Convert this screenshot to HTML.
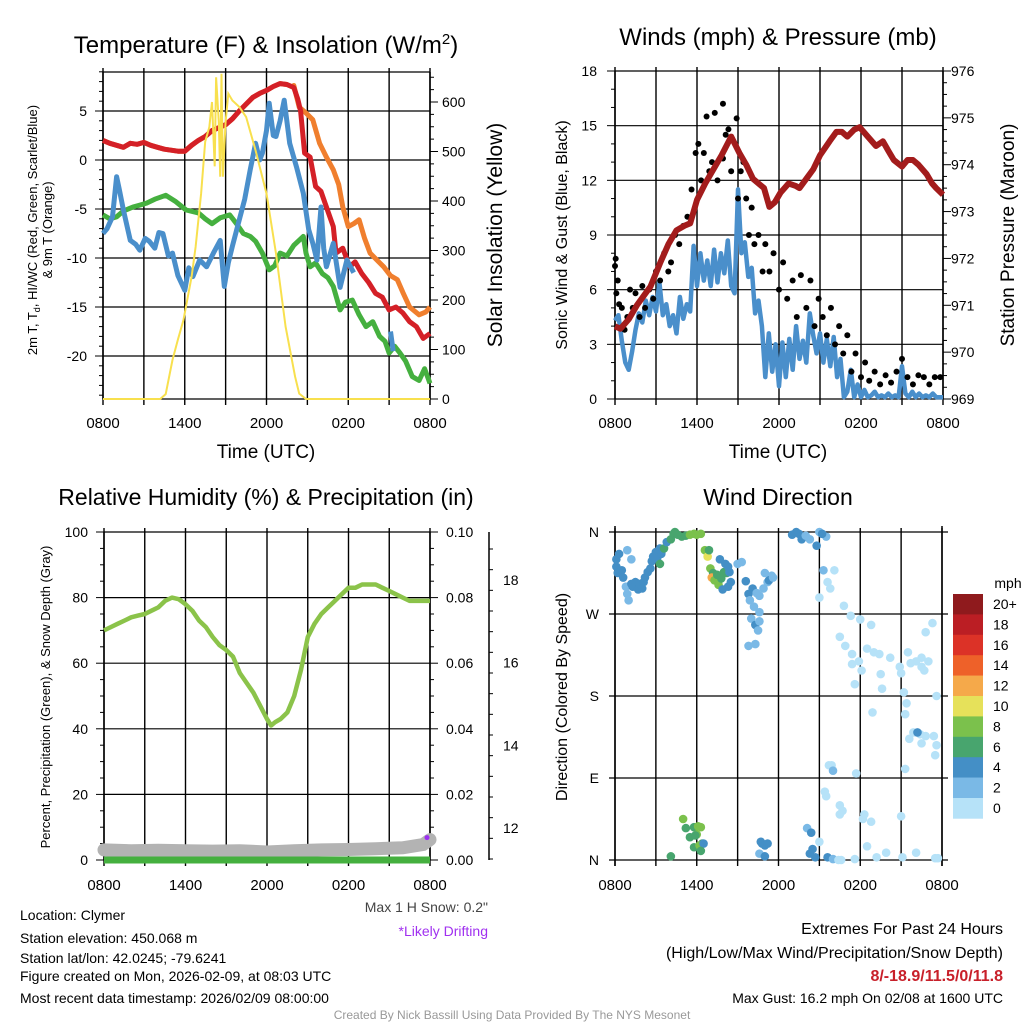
<!DOCTYPE html>
<html><head><meta charset="utf-8"><style>
body{margin:0;background:#fff;}
svg{display:block;font-family:"Liberation Sans",Arial,sans-serif;}
</style></head><body>
<svg id="c" width="1024" height="1024" viewBox="0 0 1024 1024" xmlns="http://www.w3.org/2000/svg"></svg>
<script>
// ---------- DATA ----------
const timeTickLabels=["0800","1400","2000","0200","0800"];
// Temperature panel (hours since 0800, value F)
const redT=[[0,2],[0.5,1.7],[1,1.5],[1.5,1.3],[2,1.7],[2.5,1.6],[3,1.8],[3.5,1.5],[4,1.3],[4.5,1.1],[5,1],[5.5,0.9],[6,0.9],[6.5,1.5],[7,2],[7.5,2.4],[8,3],[8.5,3.3],[9,3.6],[9.5,4.2],[10,5],[10.5,5.7],[11,6.4],[11.5,6.8],[12,7.1],[12.5,7.5],[13,7.8],[13.5,7.7],[14,7.4],[14.3,6.2],[14.5,5],[14.8,0.7],[15.2,0.3],[15.6,-2.7],[16,-3.2],[16.4,-4.8],[16.9,-6.8],[17.1,-9.5],[17.6,-9],[18.1,-10.9],[18.5,-10.4],[19,-11.6],[19.5,-12.5],[20,-13.6],[20.5,-14],[21,-15.3],[21.5,-15],[22,-15.6],[22.5,-16.5],[23,-17],[23.5,-18.2],[24,-17.7]];
const orangeT=[[14,7.6],[14.4,5.4],[14.9,4.8],[15.4,4.1],[15.9,1.7],[16.4,0.3],[16.9,-1],[17.3,-2.5],[17.6,-4.8],[18,-6.8],[18.4,-6.5],[18.8,-6.1],[19.2,-8],[19.6,-9.5],[20.1,-10.2],[20.6,-10.9],[21.1,-11.8],[21.6,-12.2],[22,-13.5],[22.5,-15],[23.2,-15.8],[23.7,-15.5],[24,-15]];
const greenTd=[[0,-5.6],[0.5,-6],[1,-5.8],[1.5,-5.2],[2.2,-4.8],[2.7,-4.6],[3.2,-4.4],[3.8,-4],[4.6,-3.6],[5.3,-4.2],[6.1,-5.1],[7,-5.4],[7.5,-6],[8,-6.5],[8.6,-5.9],[9.3,-5.6],[9.8,-6.5],[10.3,-7.5],[10.8,-7.8],[11.2,-8.3],[11.7,-9.5],[12.2,-11.2],[12.6,-10.8],[13,-9.5],[13.5,-9.8],[14,-8.7],[14.7,-7.8],[14.9,-9.5],[15.2,-10.9],[15.6,-10.5],[16.1,-11.6],[16.5,-12],[16.9,-12.9],[17.4,-15.3],[17.8,-14.5],[18.3,-14.3],[18.8,-15.8],[19.3,-17],[19.8,-16.5],[20.3,-18],[20.7,-18.5],[21,-19.7],[21.4,-19],[21.8,-19.7],[22.2,-20.5],[22.7,-22.1],[23.2,-22.5],[23.6,-21.3],[24,-22.8]];
const blueWC=[[0,-7.5],[0.3,-7],[0.7,-5.8],[1,-1.7],[1.2,-3],[1.5,-5.1],[2,-8.2],[2.4,-8.6],[2.7,-9.2],[3.1,-8],[3.4,-8.3],[3.8,-9],[4.1,-7.4],[4.4,-7.5],[4.8,-9.8],[5.1,-9.5],[5.5,-11.8],[6,-13.3],[6.3,-11],[6.6,-11.9],[7.1,-10.2],[7.6,-10.9],[8.1,-9.5],[8.6,-8.2],[8.9,-12.9],[9.2,-10.5],[9.5,-8.8],[10,-6.1],[10.4,-4],[10.8,-1],[11.2,1.7],[11.5,0],[11.7,0.7],[12,3],[12.2,5.8],[12.5,2.5],[12.7,2.4],[13,4],[13.3,6.1],[13.7,1.7],[14.2,-0.7],[14.7,-3.4],[15.1,-7.1],[15.4,-8.5],[15.7,-10.2],[16,-4.8],[16.2,-9],[16.4,-10.9],[16.9,-8.5],[17.4,-13],[17.9,-10.2],[18.4,-11.5]];
const blueWC2=[[21.1,-17.5],[21.3,-19.5]];
const solar=[[0,0],[4.2,0],[4.6,10],[5.1,79],[5.5,120],[5.9,159],[6.5,247],[6.8,307],[7.2,415],[7.5,520],[7.8,549],[8,600],[8.2,470],[8.3,650],[8.5,560],[8.6,449],[8.7,657],[8.8,449],[9,560],[9.2,617],[9.5,603],[10,590],[10.5,570],[11.2,502],[12,415],[12.7,294],[13.4,146],[14.1,45],[14.4,11],[14.9,0],[24,0]];
// Wind panel
const sonicWind=[[0,4.3],[0.25,4.6],[0.5,3.2],[0.75,2.0],[1,1.6],[1.25,2.6],[1.5,3.8],[1.75,4.7],[2,4.2],[2.25,5.4],[2.5,4.6],[2.75,5.6],[3,4.8],[3.25,6.4],[3.5,4.6],[3.75,5.2],[4,4.0],[4.25,4.6],[4.5,3.6],[4.75,5.6],[5,4.4],[5.25,5.2],[5.5,4.8],[5.75,8.4],[6,6.2],[6.25,8.0],[6.5,6.5],[6.75,7.6],[7,6.2],[7.25,8.2],[7.5,6.4],[7.75,8.0],[8,6.9],[8.25,8.7],[8.5,6.2],[8.75,5.8],[9,11.5],[9.25,8.0],[9.5,8.6],[9.75,6.7],[10,7.2],[10.25,4.7],[10.5,5.4],[10.75,4.0],[11,1.2],[11.25,3.6],[11.5,1.5],[11.75,3.0],[12,0.7],[12.25,3.1],[12.5,1.2],[12.75,3.3],[13,1.6],[13.25,4.0],[13.5,2.2],[13.75,3.2],[14,2.0],[14.25,4.7],[14.5,3.5],[14.75,2.5],[15,3.6],[15.25,2.0],[15.5,3.3],[15.75,1.8],[16,3.4],[16.25,1.2],[16.5,2.2],[16.75,0.1],[17,0.4],[17.25,1.6],[17.5,0.1],[17.75,0.8],[18,0.1],[18.25,0.5],[18.5,0.1],[18.75,0.2],[19,0.4],[19.25,0.1],[19.5,0.2],[19.75,0.1],[20,0.3],[20.25,0.1],[20.5,0.2],[20.75,0.1],[21,1.8],[21.25,0.3],[21.5,0.1],[21.75,0.4],[22,0.1],[22.25,0.3],[22.5,0.1],[22.75,0.2],[23,0.1],[23.25,0.3],[23.5,0.1],[24,0.1]];
const gustDots=[[0,7.3],[0.05,7.7],[0.1,5.8],[0.2,6.5],[0.3,5.2],[0.5,5],[0.7,3.8],[0.9,4.5],[1.1,6],[1.3,5],[1.5,5.8],[1.8,4.5],[2,6.2],[2.2,5],[2.5,6],[2.8,5.5],[3,7],[3.3,6.5],[3.6,8],[3.9,7],[4.1,7.5],[4.4,9],[4.7,8.5],[5,9.5],[5.3,10],[5.6,11.5],[5.9,13.5],[6.1,14],[6.3,12],[6.5,13.5],[6.7,15.5],[6.9,12.5],[7.1,13],[7.3,15.7],[7.5,12],[7.9,16.2],[7.9,13.2],[8.1,14.5],[8.3,14.8],[8.5,12.5],[8.9,15.4],[9,11],[9.2,12.5],[9.4,13],[9.6,11],[9.8,9],[10,10.5],[10.2,8.5],[10.5,9],[10.8,7],[11,8.5],[11.3,7],[11.6,8],[12,6],[12.3,7.5],[12.6,5.5],[13,6.5],[13.3,4.5],[13.6,6.8],[14,5],[14.3,6.5],[14.6,4],[14.9,5.5],[15.2,4.5],[15.5,3.5],[15.8,5],[16.1,3],[16.4,4],[16.7,2.5],[17,3.5],[17.3,1.5],[17.6,2.5],[18,1.2],[18.3,2],[18.6,1],[19,1.5],[19.4,0.8],[19.8,1.3],[20.2,0.9],[20.6,1.5],[21,2.2],[21.4,1.2],[21.8,0.8],[22.2,1.3],[22.6,1.2],[23,0.8],[23.4,1.2],[23.8,1.2]];
const pressure=[[0,970.55],[0.4,970.5],[1,970.7],[1.6,971],[2.1,971.2],[2.6,971.4],[3.3,971.9],[3.9,972.3],[4.5,972.6],[5.1,972.7],[5.5,972.75],[6,973.25],[6.6,973.6],[7.2,973.9],[7.8,974.2],[8.5,974.6],[9.1,974.25],[9.6,974],[10.1,973.7],[10.9,973.5],[11.3,973.1],[11.7,973.2],[12.1,973.4],[12.7,973.6],[13.2,973.55],[13.5,973.5],[14,973.7],[14.5,973.9],[15,974.2],[15.7,974.5],[16.2,974.7],[16.6,974.7],[17,974.6],[17.5,974.75],[17.9,974.8],[18.5,974.6],[19.1,974.4],[19.6,974.5],[20,974.3],[20.4,974.1],[21,973.96],[21.4,974.1],[21.8,974.1],[22.2,974],[22.8,973.8],[23.2,973.6],[23.5,973.5],[24,973.36]];
// RH panel
const rhVals=[[0,70],[0.5,71],[1,72],[1.5,73],[2,74],[2.5,74.5],[3,75],[3.5,76],[4,77],[4.5,79],[5,80],[5.5,79.5],[6,78],[6.5,76],[7,73],[7.5,71],[8,68],[8.5,65.5],[9,64],[9.5,62],[10,57],[10.5,54],[11,51],[11.5,47],[12,43],[12.3,41],[12.6,42],[13,43],[13.5,45],[14,50],[14.5,58],[15,68],[15.5,72],[16,75],[16.5,77],[17,79],[17.5,81],[18,83],[18.5,83],[19,84],[19.5,84],[20,84],[20.5,83],[21,82],[21.5,81],[22,80],[22.5,79],[23,79],[23.5,79],[24,79]];
const precipVals=[[0,0],[24,0]];
const snowDepth=[[0,11.47],[2,11.45],[4,11.46],[6,11.45],[8,11.44],[10,11.45],[12,11.42],[14,11.45],[16,11.47],[18,11.48],[20,11.5],[22,11.52],[23.5,11.6],[24,11.72]];
// Wind direction [hour, degrees, speed]
const dirPts=[[0.1,330,4],[0.1,322,4],[0.3,336,4],[0.2,315,4],[0.5,318,4],[0.6,310,4],[0.8,300,3],[0.9,292,3],[1.0,285,3],[1.2,303,4],[1.3,300,4],[1.5,305,4],[1.6,300,4],[1.7,297,4],[1.8,303,4],[2.0,298,4],[2.1,305,4],[2.2,310,4],[2.4,316,4],[2.6,320,4],[1.2,330,3],[0.9,340,3],[2.7,328,5],[2.8,333,4],[3.0,338,4],[3.1,331,4],[3.3,342,4],[3.4,336,4],[3.6,342,6],[3.8,349,5],[3.3,325,6],[4.1,352,6],[4.3,358,6],[4.6,357,6],[4.9,355,6],[5.2,356,6],[5.5,357,8],[5.8,358,8],[6.0,357,8],[6.3,358,8],[4.4,360,7],[6.6,340,8],[6.8,333,10],[6.9,340,6],[7.0,320,8],[7.2,315,6],[7.1,310,12],[7.3,307,8],[7.5,313,6],[7.6,302,8],[7.8,309,6],[8.0,316,6],[8.2,315,6],[8.4,316,5],[7.7,330,4],[8.1,325,4],[8.3,322,4],[8.5,305,4],[7.9,297,4],[8.3,300,4],[9.0,325,3],[9.3,327,3],[9.6,306,4],[9.8,292,4],[10.1,298,4],[10.4,293,3],[10.6,290,3],[10.9,298,3],[11.2,305,3],[11.5,312,3],[11.3,307,4],[11.6,310,3],[9.9,285,2],[10.2,278,2],[10.0,265,3],[10.3,258,4],[10.5,252,2],[10.6,262,2],[9.8,235,2],[10.3,237,2],[11.0,315,2],[10.6,272,3],[13.0,357,4],[13.3,360,4],[13.5,358,4],[13.7,352,4],[14.0,356,3],[14.3,352,3],[14.8,345,4],[15.0,360,3],[15.5,355,3],[15.2,358,4],[15.3,318,2],[16.1,318,1],[15.0,288,1],[15.8,298,1],[15.6,305,1],[16.8,279,1],[17.3,268,1],[18.0,264,1],[18.8,258,1],[16.5,245,1],[16.9,235,1],[17.4,215,1],[17.4,226,1],[17.9,218,1],[19.4,226,1],[20.2,222,1],[18.5,232,1],[19.0,228,1],[20.9,212,1],[21.7,216,1],[21.5,228,1],[22.5,222,1],[23.0,218,1],[22.1,218,1],[22.5,212,1],[21.0,205,1],[19.5,204,1],[19.6,188,1],[18.1,208,1],[17.6,193,1],[22.7,208,1],[23.3,260,1],[22.8,250,1],[21.2,184,1],[21.4,172,1],[21.3,160,1],[21.6,133,1],[21.9,140,1],[22.4,138,1],[22.8,136,1],[23.4,136,1],[23.6,180,1],[23.6,126,1],[23.5,115,1],[18.9,162,1],[15.7,104,1],[15.9,104,1],[16.0,98,2],[17.7,95,1],[15.4,75,1],[15.5,70,1],[16.5,60,1],[16.7,54,1],[16.5,50,1],[18.2,45,1],[18.3,50,1],[18.8,42,1],[21.0,48,1],[22.2,140,4],[21.3,100,1],[22.5,128,1],[5.0,45,8],[5.2,35,6],[5.5,25,6],[5.8,36,6],[6.1,37,8],[6.0,28,8],[6.3,36,8],[5.9,27,6],[6.4,18,6],[5.8,14,6],[6.2,16,8],[6.5,18,4],[4.1,4,6],[6.3,10,6],[10.8,18,4],[10.7,20,4],[11.0,16,4],[11.2,18,4],[10.6,7,3],[11.0,4,4],[14.1,35,3],[14.4,30,4],[14.5,12,4],[14.3,7,4],[14.7,3,4],[15.0,20,1],[15.6,3,4],[16.0,1,2],[16.4,0,1],[16.6,0,1],[17.6,1,1],[18.5,15,1],[19.2,3,1],[19.9,8,1],[21.1,3,1],[22.1,8,1],[23.5,2,1],[23.7,2,1]];
const cbarLabels=["20+","18","16","14","12","10","8","6","4","2","0"];
const cbarColors=["#8f1a1d","#bb1e24","#dc3227","#ee6129","#f5a94a","#e6e15a","#7bc14c","#48a56e","#448fc6","#7ab9e6","#b6e2f8"];

// ---------- HELPERS ----------
const NS="http://www.w3.org/2000/svg";
const svg=document.getElementById('c');
function el(tag,attrs,parent){const e=document.createElementNS(NS,tag);for(const k in attrs)e.setAttribute(k,attrs[k]);(parent||svg).appendChild(e);return e;}
function txt(x,y,s,size,anchor,extra){const t=el('text',Object.assign({x:x,y:y,'font-size':size,'text-anchor':anchor||'middle',fill:'#000'},extra||{}));t.textContent=s;return t;}
function lin(d0,d1,r0,r1){return v=>r0+(v-d0)/(d1-d0)*(r1-r0);}
function pathOf(arr,xf,yf){return arr.map((p,i)=>(i?'L':'M')+xf(p[0]).toFixed(1)+','+yf(p[1]).toFixed(1)).join('');}
function panelFrame(x0,x1,y0,y1,name){
  const g=el('g',{});
  
  
  for(let h=0;h<=24;h+=3){const x=lin(0,24,x0,x1)(h);el('line',{x1:x,x2:x,y1:y0-4,y2:y1+6,stroke:'#000','stroke-width':1.4},g);}
  return g;
}
function timeAxis(x0,x1,y){
  const xf=lin(0,24,x0,x1);
  timeTickLabels.forEach((s,i)=>{const t=txt(xf(i*6),y,s,15);
    
    });
}
function hgrid(x0,x1,ys){ys.forEach(y=>el('line',{x1:x0,x2:x1,y1:y,y2:y,stroke:'#000','stroke-width':1.2}));}

// ---------- PANEL 1: Temperature ----------
(function(){
 const x0=103,x1=430,y0=72,y1=399;
 const xf=lin(0,24,x0,x1), yf=lin(0,5,160,111), ys=lin(0,600,399,102);
 panelFrame(x0,x1,y0,y1,'temperature');
 const ticks=[5,0,-5,-10,-15,-20];
 hgrid(x0,x1,ticks.map(yf).concat([y0,y1]));
 ticks.forEach(v=>{const t=txt(x0-16,yf(v)+5,String(v),14,'end');});
 for(let v=-24;v<=9;v++){el('line',{x1:x0-(v%5==0?8:4),x2:x0,y1:yf(v),y2:yf(v),stroke:'#000','stroke-width':1});}
 [0,100,200,300,400,500,600].forEach(v=>{const t=txt(x1+12,ys(v)+5,String(v),14,'start');});
 for(let v=0;v<=660;v+=25){el('line',{x1:x1,x2:x1+(v%100==0?8:4),y1:ys(v),y2:ys(v),stroke:'#000','stroke-width':1});}
 el('line',{x1:x0,x2:x0,y1:y0,y2:y1,stroke:'#000','stroke-width':1.5});
 el('line',{x1:x1,x2:x1,y1:y0,y2:y1,stroke:'#000','stroke-width':1.5});
 const sw=5;
 let p=el('path',{d:pathOf(redT.filter(d=>d[0]<=14).concat(orangeT),xf,yf),fill:'none',stroke:'#f07f2e','stroke-width':sw,'stroke-linejoin':'round'});
 
 p=el('path',{d:pathOf(redT,xf,yf),fill:'none',stroke:'#d42027','stroke-width':sw,'stroke-linejoin':'round'});
 
 p=el('path',{d:pathOf(greenTd,xf,yf),fill:'none',stroke:'#45b03f','stroke-width':sw,'stroke-linejoin':'round'});
 
 p=el('path',{d:pathOf(blueWC,xf,yf)+pathOf(blueWC2,xf,yf),fill:'none',stroke:'#4a8fcb','stroke-width':sw,'stroke-linejoin':'round'});
 
 p=el('path',{d:pathOf(solar,xf,ys),fill:'none',stroke:'#f8e04e','stroke-width':2});
 
 timeAxis(x0,x1,428);
 let t=txt(266,53,'Temperature (F) & Insolation (W/m',24);
 const sup=el('tspan',{dy:-9,'font-size':15});sup.textContent='2';t.appendChild(sup);
 const cl=el('tspan',{dy:9});cl.textContent=')';t.appendChild(cl);
 t=txt(266,458,'Time (UTC)',19);
 t=txt(0,0,'2m T, T',13,'middle',{transform:'translate(37,230) rotate(-90)'});
 const sub=el('tspan',{'font-size':9,dy:3});sub.textContent='d';t.appendChild(sub);
 const r=el('tspan',{dy:-3});r.textContent=', HI/WC (Red, Green, Scarlet/Blue)';t.appendChild(r);
 
 t=txt(0,0,'& 9m T (Orange)',13,'middle',{transform:'translate(52,230) rotate(-90)'});
 
 t=txt(0,0,'Solar Insolation (Yellow)',21,'middle',{transform:'translate(502,235) rotate(-90)'});
 
})();

// ---------- PANEL 2: Winds ----------
(function(){
 const x0=615,x1=943,y0=71,y1=399;
 const xf=lin(0,24,x0,x1), yf=lin(0,18,y1,y0), pf=lin(969,976,y1,y0);
 panelFrame(x0,x1,y0,y1,'winds');
 const ticks=[0,3,6,9,12,15,18];
 hgrid(x0,x1,ticks.map(yf));
 ticks.forEach(v=>{const t=txt(x0-18,yf(v)+5,String(v),14,'end');});
 for(let v=0;v<=18;v++){el('line',{x1:x0-(v%3==0?8:4),x2:x0,y1:yf(v),y2:yf(v),stroke:'#000','stroke-width':1});}
 for(let v=969;v<=976;v++){const t=txt(x1+8,pf(v)+5,String(v),14,'start');}
 for(let v=969;v<=976;v+=0.25){el('line',{x1:x1,x2:x1+(Math.abs(v-Math.round(v))<0.01?8:4),y1:pf(v),y2:pf(v),stroke:'#000','stroke-width':1});}
 el('line',{x1:x0,x2:x0,y1:y0,y2:y1,stroke:'#000','stroke-width':1.5});
 el('line',{x1:x1,x2:x1,y1:y0,y2:y1,stroke:'#000','stroke-width':1.5});
 let p=el('path',{d:pathOf(sonicWind,xf,yf),fill:'none',stroke:'#4a8fcb','stroke-width':4.5,'stroke-linejoin':'round'});
 
 gustDots.forEach(d=>{const c=el('circle',{cx:xf(d[0]),cy:yf(d[1]),r:3,fill:'#000'});
   });
 p=el('path',{d:pathOf(pressure,xf,pf),fill:'none',stroke:'#a31c1c','stroke-width':6,'stroke-linejoin':'round'});
 
 timeAxis(x0,x1,428);
 let t=txt(778,45,'Winds (mph) & Pressure (mb)',24);
 t=txt(778,458,'Time (UTC)',19);
 t=txt(0,0,'Sonic Wind & Gust (Blue, Black)',16,'middle',{transform:'translate(567,235) rotate(-90)'});
 
 t=txt(0,0,'Station Pressure (Maroon)',19,'middle',{transform:'translate(1014,235) rotate(-90)'});
 
})();

// ---------- PANEL 3: RH ----------
(function(){
 const x0=104,x1=430,y0=532,y1=860;
 const xf=lin(0,24,x0,x1), yf=lin(0,100,y1,y0), sf=lin(12,18,828,580);
 panelFrame(x0,x1,y0,y1,'rh');
 const ticks=[0,20,40,60,80,100];
 hgrid(x0,x1,ticks.map(yf));
 ticks.forEach(v=>{const t=txt(x0-16,yf(v)+5,String(v),14,'end');});
 for(let v=0;v<=100;v+=5){el('line',{x1:x0-(v%20==0?8:4),x2:x0,y1:yf(v),y2:yf(v),stroke:'#000','stroke-width':1});}
 ['0.00','0.02','0.04','0.06','0.08','0.10'].forEach((s,i)=>{const t=txt(x1+16,yf(i*20)+5,s,14,'start');});
 for(let v=0;v<=100;v+=5){el('line',{x1:x1,x2:x1+(v%20==0?8:4),y1:yf(v),y2:yf(v),stroke:'#000','stroke-width':1});}
 el('line',{x1:x0,x2:x0,y1:y0,y2:y1,stroke:'#000','stroke-width':1.5});
 el('line',{x1:x1,x2:x1,y1:y0,y2:y1,stroke:'#000','stroke-width':1.5});
 el('line',{x1:489,x2:489,y1:y0,y2:y1,stroke:'#000','stroke-width':1.5});
 [12,14,16,18].forEach(v=>{const t=txt(503,sf(v)+5,String(v),14,'start');});
 for(let v=11.25;v<=19;v+=0.5){el('line',{x1:489,x2:489+(v%2==0?8:4),y1:sf(v),y2:sf(v),stroke:'#000','stroke-width':1});}
 let p=el('path',{d:pathOf(snowDepth,xf,sf),fill:'none',stroke:'#b3b3b3','stroke-width':13,'stroke-linecap':'round'});
 
 p=el('path',{d:pathOf(precipVals,xf,v=>yf(v*1000)),fill:'none',stroke:'#45b03f','stroke-width':7});
 
 const pd=el('circle',{cx:xf(24)-3,cy:sf(11.72)-2,r:2.5,fill:'#9b30f0'});
 
 p=el('path',{d:pathOf(rhVals,xf,yf),fill:'none',stroke:'#8bc34a','stroke-width':4.5,'stroke-linejoin':'round'});
 
 timeAxis(x0,x1,890);
 let t=txt(266,505,'Relative Humidity (%) & Precipitation (in)',23);
 t=txt(0,0,'Percent, Precipitation (Green), & Snow Depth (Gray)',13,'middle',{transform:'translate(50,697) rotate(-90)'});
 
 t=txt(488,912,'Max 1 H Snow: 0.2"',14,'end',{fill:'#444'});
 t=txt(488,936,'*Likely Drifting',14,'end',{fill:'#a030f0'});
})();

// ---------- PANEL 4: Wind direction ----------
(function(){
 const x0=615,x1=942,y0=532,y1=860;
 const xf=lin(0,24,x0,x1), yf=lin(0,360,y1,y0);
 panelFrame(x0,x1,y0,y1,'direction');
 const labs=['N','E','S','W','N'];
 hgrid(x0-6,x1+6,[0,90,180,270,360].map(yf));
 labs.forEach((s,i)=>{const t=txt(x0-16,yf(i*90)+5,s,14,'end');});
 el('line',{x1:x0,x2:x0,y1:y0-6,y2:y1+6,stroke:'#000','stroke-width':1.5});
 el('line',{x1:x1,x2:x1,y1:y0-6,y2:y1+6,stroke:'#000','stroke-width':1.5});
 dirPts.forEach(d=>{const bin=Math.min(10,Math.floor(d[2]/2));
   const c=el('circle',{cx:xf(d[0]),cy:yf(d[1]),r:4.3,fill:cbarColors[10-bin]});
   });
 timeAxis(x0,x1,890);
 let t=txt(778,505,'Wind Direction',23);
 t=txt(0,0,'Direction (Colored By Speed)',16,'middle',{transform:'translate(567,697) rotate(-90)'});
 
 const bh=20.4;
 cbarColors.forEach((c,i)=>{const r=el('rect',{x:953,y:594+i*bh,width:30,height:bh+0.3,fill:c});
   });
 cbarLabels.forEach((s,i)=>{const tt=txt(993,594+i*bh+15,s,14,'start');});
 t=txt(1008,588,'mph',14);
})();

// ---------- Footer ----------
[['Location: Clymer',920],['Station elevation: 450.068 m',943],['Station lat/lon: 42.0245; -79.6241',963],['Figure created on Mon, 2026-02-09, at 08:03 UTC',981],['Most recent data timestamp: 2026/02/09 08:00:00',1003]].forEach(a=>{
 const t=txt(20,a[1],a[0],14,'start');});
let ft=txt(1003,934,'Extremes For Past 24 Hours',16,'end');
ft=txt(1003,958,'(High/Low/Max Wind/Precipitation/Snow Depth)',16,'end');
ft=txt(1003,981,'8/-18.9/11.5/0/11.8',16,'end',{fill:'#c8202a','font-weight':'bold'});
ft=txt(1003,1003,'Max Gust: 16.2 mph On 02/08 at 1600 UTC',14,'end');
ft=txt(512,1019,'Created By Nick Bassill Using Data Provided By The NYS Mesonet',12,'middle',{fill:'#999'});
</script>
</body></html>
